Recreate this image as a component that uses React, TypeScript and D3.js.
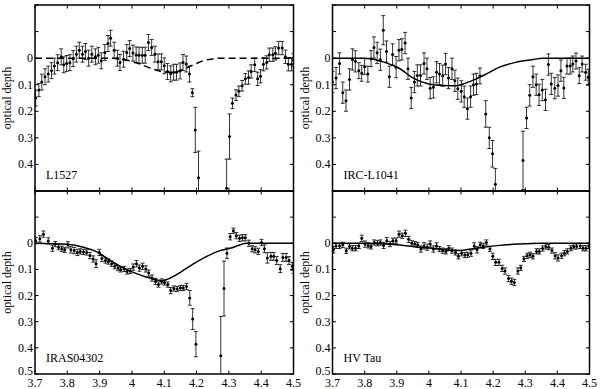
import React from 'react';
import * as d3 from 'd3';

// [wavelength (µm), optical depth, error]
const L1527_POINTS: [number, number, number][] = [
  [3.702, 0.15, 0.03], [3.712, 0.12, 0.025], [3.721, 0.09, 0.03], [3.731, 0.07, 0.03], [3.741, 0.06, 0.03],
  [3.751, 0.047, 0.03], [3.760, 0.03, 0.03], [3.770, 0.017, 0.03], [3.781, -0.005, 0.03], [3.789, 0.025, 0.03],
  [3.798, 0.02, 0.03], [3.808, 0.017, 0.03], [3.818, 0.002, 0.03], [3.828, -0.015, 0.03], [3.837, -0.03, 0.03],
  [3.847, -0.015, 0.03], [3.856, -0.025, 0.03], [3.866, 0.0, 0.03], [3.876, -0.015, 0.03], [3.887, -0.005, 0.03],
  [3.896, -0.011, 0.03], [3.905, 0.01, 0.03], [3.916, -0.021, 0.03], [3.926, -0.055, 0.03], [3.934, -0.075, 0.03],
  [3.945, -0.03, 0.03], [3.955, 0.0, 0.03], [3.963, 0.016, 0.03], [3.974, 0.004, 0.03], [3.984, -0.021, 0.03],
  [3.993, -0.036, 0.03], [4.003, -0.019, 0.03], [4.013, -0.012, 0.03], [4.022, -0.011, 0.03], [4.032, -0.011, 0.03],
  [4.041, -0.011, 0.03], [4.051, -0.059, 0.03], [4.061, -0.04, 0.03], [4.071, -0.015, 0.03], [4.081, 0.014, 0.03],
  [4.091, 0.014, 0.03], [4.100, 0.029, 0.03], [4.110, 0.05, 0.03], [4.120, 0.059, 0.03], [4.129, 0.053, 0.03],
  [4.138, 0.053, 0.03], [4.149, 0.048, 0.03], [4.158, 0.016, 0.03], [4.168, 0.022, 0.03], [4.178, 0.06, 0.03],
  [4.187, 0.13, 0.015], [4.196, 0.27, 0.085], [4.206, 0.45, 0.1],
  [4.293, 0.49, 0.11], [4.302, 0.295, 0.085], [4.311, 0.17, 0.02], [4.322, 0.139, 0.02], [4.331, 0.125, 0.02],
  [4.341, 0.104, 0.02], [4.351, 0.078, 0.02], [4.361, 0.073, 0.025], [4.369, 0.05, 0.025], [4.380, 0.025, 0.025],
  [4.389, 0.078, 0.025], [4.398, 0.068, 0.025], [4.407, 0.023, 0.025], [4.417, 0.016, 0.025], [4.425, -0.013, 0.025],
  [4.436, -0.013, 0.025], [4.444, -0.018, 0.025], [4.454, -0.038, 0.025], [4.465, -0.038, 0.025], [4.475, -0.005, 0.025],
  [4.484, 0.023, 0.025], [4.494, 0.023, 0.025], [4.500, 0.008, 0.025],
];

const IRC_L1041_POINTS: [number, number, number][] = [
  [3.700, 0.09, 0.04], [3.711, 0.075, 0.04], [3.722, 0.02, 0.04], [3.732, 0.13, 0.04], [3.742, 0.16, 0.04],
  [3.753, 0.08, 0.04], [3.762, 0.005, 0.04], [3.771, 0.012, 0.04], [3.782, 0.047, 0.03], [3.791, 0.057, 0.03],
  [3.800, 0.032, 0.03], [3.810, 0.06, 0.03], [3.820, 0.002, 0.03], [3.829, -0.04, 0.04], [3.839, -0.02, 0.04],
  [3.849, 0.006, 0.04], [3.858, -0.105, 0.055], [3.868, -0.025, 0.04], [3.877, 0.07, 0.04], [3.887, -0.014, 0.04],
  [3.898, 0.034, 0.04], [3.907, -0.03, 0.04], [3.916, -0.033, 0.04], [3.926, -0.057, 0.04], [3.935, 0.04, 0.04],
  [3.945, 0.15, 0.04], [3.955, 0.09, 0.04], [3.964, 0.065, 0.04], [3.974, 0.065, 0.04], [3.985, 0.02, 0.04],
  [3.994, 0.04, 0.04], [4.004, 0.113, 0.04], [4.014, 0.11, 0.04], [4.024, 0.053, 0.04], [4.033, 0.06, 0.04],
  [4.043, 0.066, 0.04], [4.052, 0.022, 0.04], [4.061, 0.075, 0.04], [4.072, 0.04, 0.04], [4.081, 0.085, 0.04],
  [4.090, 0.115, 0.04], [4.101, 0.125, 0.04], [4.110, 0.145, 0.04], [4.120, 0.19, 0.04], [4.130, 0.145, 0.04],
  [4.139, 0.1, 0.04], [4.148, 0.097, 0.04], [4.159, 0.067, 0.03], [4.177, 0.21, 0.05], [4.188, 0.30, 0.04],
  [4.198, 0.36, 0.05], [4.207, 0.475, 0.06],
  [4.293, 0.385, 0.11], [4.304, 0.225, 0.04], [4.314, 0.14, 0.04], [4.324, 0.07, 0.04], [4.334, 0.1, 0.04],
  [4.343, 0.138, 0.04], [4.353, 0.12, 0.04], [4.363, 0.157, 0.04], [4.372, 0.024, 0.04], [4.381, 0.097, 0.04],
  [4.392, 0.113, 0.04], [4.402, 0.103, 0.04], [4.411, 0.047, 0.04], [4.420, 0.112, 0.04], [4.430, 0.03, 0.03],
  [4.440, 0.03, 0.03], [4.448, 0.022, 0.03], [4.458, 0.011, 0.03], [4.468, 0.066, 0.03], [4.477, 0.022, 0.03],
  [4.488, 0.053, 0.03], [4.496, 0.072, 0.03],
];

const IRAS04302_POINTS: [number, number, number][] = [
  [3.702, -0.01, 0.012], [3.715, -0.017, 0.012], [3.726, -0.035, 0.012], [3.741, -0.009, 0.012], [3.754, 0.019, 0.012],
  [3.763, 0.003, 0.01], [3.773, 0.015, 0.01], [3.783, 0.021, 0.01], [3.792, 0.025, 0.01], [3.802, 0.006, 0.012],
  [3.811, 0.025, 0.012], [3.821, 0.028, 0.012], [3.831, 0.035, 0.012], [3.840, 0.031, 0.01], [3.850, 0.033, 0.01],
  [3.860, 0.035, 0.01], [3.870, 0.047, 0.012], [3.880, 0.06, 0.012], [3.889, 0.078, 0.015], [3.899, 0.035, 0.012],
  [3.907, 0.058, 0.012], [3.918, 0.066, 0.01], [3.927, 0.07, 0.01], [3.937, 0.078, 0.01], [3.947, 0.088, 0.01],
  [3.957, 0.095, 0.01], [3.965, 0.1, 0.01], [3.976, 0.098, 0.01], [3.985, 0.108, 0.01], [3.995, 0.106, 0.01],
  [4.004, 0.091, 0.012], [4.014, 0.078, 0.012], [4.023, 0.095, 0.012], [4.033, 0.088, 0.012], [4.043, 0.098, 0.012],
  [4.052, 0.114, 0.012], [4.062, 0.133, 0.012], [4.073, 0.146, 0.012], [4.082, 0.158, 0.01], [4.092, 0.146, 0.01],
  [4.101, 0.15, 0.01], [4.111, 0.158, 0.01], [4.120, 0.181, 0.012], [4.130, 0.173, 0.01], [4.140, 0.175, 0.01],
  [4.150, 0.171, 0.01], [4.159, 0.171, 0.01], [4.169, 0.165, 0.012], [4.179, 0.209, 0.028], [4.188, 0.29, 0.04],
  [4.198, 0.386, 0.048],
  [4.275, 0.43, 0.15], [4.285, 0.173, 0.105], [4.294, 0.038, 0.02], [4.304, -0.025, 0.012], [4.314, -0.048, 0.01],
  [4.323, -0.029, 0.012], [4.333, -0.019, 0.012], [4.342, -0.021, 0.012], [4.351, -0.021, 0.012], [4.362, 0.0, 0.012],
  [4.372, 0.021, 0.012], [4.381, 0.025, 0.012], [4.391, 0.031, 0.012], [4.401, -0.003, 0.012], [4.410, 0.021, 0.015],
  [4.419, 0.056, 0.02], [4.430, 0.05, 0.015], [4.439, 0.05, 0.015], [4.448, 0.066, 0.015], [4.459, 0.097, 0.015],
  [4.467, 0.054, 0.015], [4.477, 0.054, 0.015], [4.486, 0.066, 0.015], [4.496, 0.088, 0.015], [4.500, 0.1, 0.015],
];

const HV_TAU_POINTS: [number, number, number][] = [
  [3.703, 0.025, 0.012], [3.711, 0.01, 0.01], [3.722, 0.01, 0.01], [3.732, 0.006, 0.01], [3.743, 0.029, 0.01],
  [3.753, 0.012, 0.01], [3.762, 0.019, 0.01], [3.772, 0.019, 0.01], [3.782, 0.01, 0.01], [3.791, -0.019, 0.012],
  [3.801, 0.003, 0.012], [3.811, 0.008, 0.01], [3.820, 0.012, 0.01], [3.830, -0.003, 0.01], [3.840, 0.0, 0.01],
  [3.849, -0.003, 0.01], [3.859, 0.008, 0.012], [3.869, -0.01, 0.012], [3.879, 0.003, 0.01], [3.888, -0.01, 0.01],
  [3.898, -0.01, 0.01], [3.907, -0.035, 0.012], [3.917, -0.029, 0.01], [3.927, -0.038, 0.012], [3.937, -0.015, 0.012],
  [3.947, 0.0, 0.01], [3.956, 0.003, 0.01], [3.965, 0.006, 0.01], [3.975, 0.022, 0.012], [3.985, 0.01, 0.012],
  [3.995, 0.015, 0.012], [4.004, 0.003, 0.012], [4.014, 0.022, 0.012], [4.024, 0.01, 0.012], [4.033, 0.022, 0.01],
  [4.043, 0.028, 0.01], [4.053, 0.031, 0.01], [4.062, 0.019, 0.01], [4.072, 0.028, 0.01], [4.083, 0.035, 0.01],
  [4.092, 0.05, 0.01], [4.102, 0.038, 0.01], [4.112, 0.045, 0.01], [4.121, 0.044, 0.01], [4.131, 0.038, 0.012],
  [4.141, 0.01, 0.012], [4.150, 0.025, 0.012], [4.160, 0.006, 0.01], [4.169, 0.01, 0.01], [4.179, -0.003, 0.01],
  [4.190, 0.022, 0.01], [4.199, 0.05, 0.012], [4.208, 0.073, 0.012], [4.218, 0.073, 0.012], [4.228, 0.096, 0.012],
  [4.237, 0.106, 0.012], [4.248, 0.135, 0.012], [4.257, 0.145, 0.012], [4.266, 0.15, 0.012], [4.277, 0.106, 0.012],
  [4.286, 0.094, 0.01], [4.296, 0.06, 0.01], [4.306, 0.048, 0.01], [4.315, 0.044, 0.01], [4.324, 0.05, 0.01],
  [4.335, 0.031, 0.01], [4.344, 0.031, 0.01], [4.354, 0.02, 0.01], [4.364, 0.012, 0.01], [4.373, 0.015, 0.01],
  [4.383, 0.028, 0.01], [4.393, 0.048, 0.012], [4.402, 0.056, 0.012], [4.413, 0.048, 0.01], [4.422, 0.038, 0.01],
  [4.431, 0.031, 0.01], [4.442, 0.019, 0.01], [4.451, 0.012, 0.01], [4.460, 0.012, 0.01], [4.471, 0.01, 0.01],
  [4.480, 0.019, 0.01], [4.489, 0.019, 0.01], [4.498, 0.01, 0.01],
];

// model curves [wavelength, optical depth]
const L1527_MODEL: [number, number][] = [
  [3.70, 0], [3.93, 0], [3.98, 0.006], [4.02, 0.02], [4.065, 0.041], [4.095, 0.051], [4.125, 0.053],
  [4.16, 0.041], [4.19, 0.025], [4.22, 0.01], [4.25, 0.003], [4.28, 0], [4.50, 0],
];
const IRC_L1041_MODEL: [number, number][] = [
  [3.70, 0], [3.80, 0], [3.82, 0.002], [3.86, 0.015], [3.91, 0.04], [3.95, 0.074], [4.0, 0.097], [4.045, 0.103],
  [4.085, 0.104], [4.105, 0.098], [4.14, 0.082], [4.18, 0.059], [4.22, 0.034], [4.27, 0.016], [4.32, 0.006],
  [4.355, 0], [4.50, 0],
];
const IRAS04302_MODEL: [number, number][] = [
  [3.70, 0], [3.80, 0.004], [3.85, 0.015], [3.89, 0.032], [3.93, 0.063], [3.97, 0.092], [4.01, 0.114],
  [4.055, 0.133], [4.095, 0.143], [4.115, 0.135], [4.15, 0.111], [4.19, 0.079], [4.23, 0.051], [4.27, 0.029],
  [4.31, 0.017], [4.355, 0], [4.50, 0],
];
const HV_TAU_MODEL: [number, number][] = [
  [3.70, 0], [3.80, 0], [3.88, 0.004], [3.95, 0.012], [4.0, 0.018], [4.05, 0.024], [4.09, 0.028],
  [4.12, 0.024], [4.17, 0.015], [4.22, 0.008], [4.28, 0.003], [4.35, 0], [4.50, 0],
];

const X_TICKS = [3.7, 3.8, 3.9, 4, 4.1, 4.2, 4.3, 4.4, 4.5];
const Y_TICKS = [-0.2, -0.1, 0, 0.1, 0.2, 0.3, 0.4, 0.5];
const Y_LABELS_TOP = [0, 0.1, 0.2, 0.3, 0.4];
const Y_LABELS_BOTTOM = [0, 0.1, 0.2, 0.3, 0.4, 0.5];

const FONT = '"Liberation Serif", "Times New Roman", serif';

type PanelProps = {
  id: string;
  name: string;
  points: [number, number, number][];
  model: [number, number][];
  dashed?: boolean;
  x0: number; x1: number; y0: number; y1: number;
  yLabels: number[];
  xLabels: boolean;
};

const Panel = ({ id, name, points, model, dashed, x0, x1, y0, y1, yLabels, xLabels }: PanelProps) => {
  const x = d3.scaleLinear().domain([3.7, 4.5]).range([x0, x1]);
  const y = d3.scaleLinear().domain([-0.2, 0.5]).range([y0, y1]);
  const line = d3.line<[number, number]>()
    .x(d => x(d[0]))
    .y(d => y(d[1]))
    .curve(d3.curveMonotoneX);
  const fmt = (v: number) => String(+v.toFixed(1));
  const tl = 3.5;

  return (
    <g>
      <defs>
        <clipPath id={id}>
          <rect x={x0} y={y0} width={x1 - x0} height={y1 - y0} />
        </clipPath>
      </defs>
      <g clipPath={`url(#${id})`}>
        <path d={line(model) || ''} fill="none" stroke="#000" strokeWidth={1.5}
          strokeDasharray={dashed ? '7,4' : undefined} />
        {points.map((p, i) => {
          const px = x(p[0]);
          return (
            <g key={i}>
              <line x1={px} x2={px} y1={y(p[1] - p[2])} y2={y(p[1] + p[2])} stroke="#000" strokeWidth={0.8} />
              <line x1={px - 2} x2={px + 2} y1={y(p[1] - p[2])} y2={y(p[1] - p[2])} stroke="#000" strokeWidth={0.8} />
              <line x1={px - 2} x2={px + 2} y1={y(p[1] + p[2])} y2={y(p[1] + p[2])} stroke="#000" strokeWidth={0.8} />
              <circle cx={px} cy={y(p[1])} r={1.5} fill="#000" />
            </g>
          );
        })}
      </g>
      {X_TICKS.map(t => (
        <g key={'x' + t}>
          <line x1={x(t)} x2={x(t)} y1={y0} y2={y0 + tl} stroke="#000" />
          <line x1={x(t)} x2={x(t)} y1={y1} y2={y1 - tl} stroke="#000" />
          {xLabels && (
            <text x={x(t)} y={y1 + 13} textAnchor="middle" fontSize={12} fontFamily={FONT}>{fmt(t)}</text>
          )}
        </g>
      ))}
      {Y_TICKS.map(t => (
        <g key={'y' + t}>
          <line x1={x0} x2={x0 + tl} y1={y(t)} y2={y(t)} stroke="#000" />
          <line x1={x1} x2={x1 - tl} y1={y(t)} y2={y(t)} stroke="#000" />
        </g>
      ))}
      {yLabels.map(t => (
        <text key={'yl' + t} x={x0 - 2} y={y(t) + (t === 0.5 ? 1 : 4)} textAnchor="end" fontSize={12}
          fontFamily={FONT}>{fmt(t)}</text>
      ))}
      <rect x={x0} y={y0} width={x1 - x0} height={y1 - y0} fill="none" stroke="#000" strokeWidth={1.5} />
      <text transform={`translate(${x0 - 24},${(y0 + y1) / 2}) rotate(-90)`} textAnchor="middle"
        fontSize={12} fontFamily={FONT}>optical depth</text>
      <text x={x0 + 11} y={y1 - 12} fontSize={12} fontFamily={FONT}>{name}</text>
    </g>
  );
};

export default function App() {
  return (
    <svg width={600} height={389} style={{ position: 'absolute', left: 0, top: 0, background: '#fff' }}>
      <Panel id="c1" name="L1527" points={L1527_POINTS} model={L1527_MODEL} dashed
        x0={35} x1={293.5} y0={5} y1={191} yLabels={Y_LABELS_TOP} xLabels={false} />
      <Panel id="c2" name="IRC-L1041" points={IRC_L1041_POINTS} model={IRC_L1041_MODEL}
        x0={332.5} x1={589.5} y0={5} y1={191} yLabels={Y_LABELS_TOP} xLabels={false} />
      <Panel id="c3" name="IRAS04302" points={IRAS04302_POINTS} model={IRAS04302_MODEL}
        x0={35} x1={293.5} y0={191} y1={374} yLabels={Y_LABELS_BOTTOM} xLabels />
      <Panel id="c4" name="HV Tau" points={HV_TAU_POINTS} model={HV_TAU_MODEL}
        x0={332.5} x1={589.5} y0={191} y1={374} yLabels={Y_LABELS_BOTTOM} xLabels />
    </svg>
  );
}
